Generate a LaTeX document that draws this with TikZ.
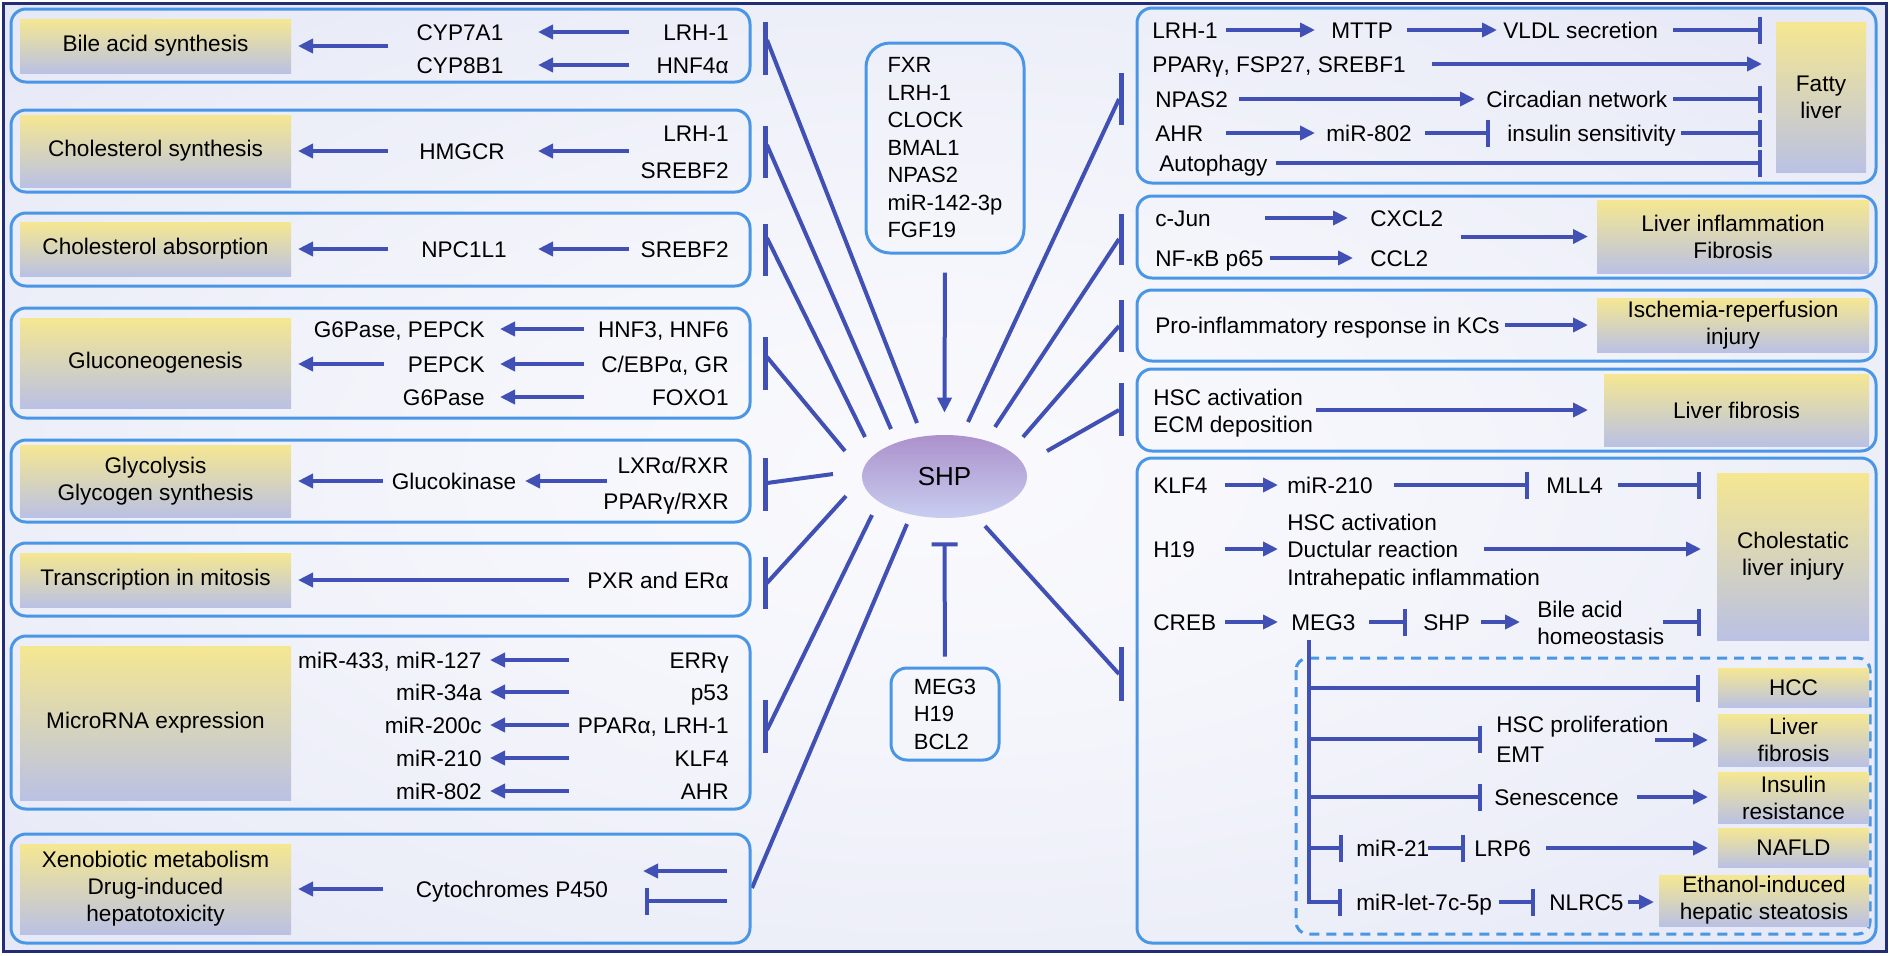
\documentclass[tikz,border=0pt]{standalone}
\usepackage{fontspec}
\setmainfont{Liberation Sans}
\usetikzlibrary{arrows.meta,shapes.geometric}
\definecolor{lineblue}{RGB}{64,80,180}
\definecolor{boxblue}{RGB}{74,150,230}
\definecolor{yel}{RGB}{245,231,145}
\definecolor{lav}{RGB}{186,193,228}
\definecolor{navy}{RGB}{35,45,115}
\definecolor{bgA}{RGB}{250,250,253}
\definecolor{bgB}{RGB}{244,245,251}
\definecolor{bgC}{RGB}{230,233,246}
\definecolor{bgD}{RGB}{218,222,241}
\definecolor{bgE}{RGB}{205,211,236}
\definecolor{shpA}{RGB}{172,145,204}
\definecolor{shpB}{RGB}{156,130,196}
\definecolor{shpC}{RGB}{200,206,240}
\pgfdeclareradialshading{bgshade}{\pgfpoint{0bp}{0bp}}{color(0bp)=(bgA); color(14bp)=(bgB); color(34bp)=(bgC); color(50bp)=(bgD); color(72bp)=(bgE)}
\newcommand{\fs}{\fontsize{11.3}{13.5}\selectfont}
\begin{document}
\begin{tikzpicture}[x=0.5pt,y=-0.5pt,
 lbl/.style={inner sep=0pt, font=\fs, text height=8.1pt, text depth=0pt},
 lbe/.style={lbl, anchor=east},
 lbw/.style={lbl, anchor=west},
 arr/.style={draw=lineblue, line width=2pt, -{Triangle[length=7.5pt,width=7pt]}},
 inh/.style={draw=lineblue, line width=2pt, -{Bar[width=13.5pt]}},
 spoke/.style={draw=lineblue, line width=2pt},
 sbar/.style={draw=lineblue, line width=2.5pt},
 pbox/.style={draw=boxblue, line width=1.5pt, rounded corners=7.5pt},
 ybox/.style={inner sep=0pt, font=\fs, align=center, top color=yel, bottom color=lav},
 cbox/.style={draw=boxblue, line width=1.5pt, inner sep=0pt, align=left, font=\fontsize{11}{13.75}\selectfont}]
\useasboundingbox (0,0) rectangle (1890,955);
\fill[white] (0,0) rectangle (1890,955);
\shade[shading=bgshade] (3,3) rectangle (1886,951);
\draw[navy, line width=1.5pt] (3,3) rectangle (1886,951);

% ---------- centre ----------
\node[ellipse, inner sep=0pt, minimum width=82.5pt, minimum height=41.5pt,
  top color=shpA, middle color=shpB, bottom color=shpC,
  font=\fontsize{13}{15}\selectfont] (shp) at (944.5,476.5) {SHP};
\node[cbox, rounded corners=12pt, minimum width=79pt, minimum height=105pt] (fxr) at (945,148)
  {FXR\\LRH-1\\CLOCK\\BMAL1\\NPAS2\\miR-142-3p\\FGF19};
\node[cbox, rounded corners=8pt, minimum width=54pt, minimum height=46pt] (meg) at (945,714)
  {MEG3\\H19\\BCL2};
\draw[arr, shorten <=9pt] (fxr.south) -- ([yshift=11pt]shp.north);
\draw[draw=lineblue, line width=2pt, shorten <=5pt, -{Bar[width=13pt]}] (meg.north) -- ([yshift=-12pt]shp.south);

% spokes
\foreach \n/\ax/\ay/\bx/\by in {1/917/423/767/40, 2/891/429/767/145, 3/865/437/767/238,
   4/845/451/767/357, 5/833/474/767/483, 6/846/496/767/583, 7/872/515/767/730, 8/907/524/752/888,
   9/968/422/1119/99, 10/995/427/1119/239, 11/1023/437/1119/326, 12/1047/451/1119/410, 13/985/526/1119/674}{
  \coordinate (sa\n) at (\ax,\ay);
  \coordinate (sb\n) at (\bx,\by);
  \draw[spoke] (sa\n) -- (sb\n);
}
\foreach \x/\ya/\yb in {765/22/75, 765/126/178, 765/224/276, 765/337/390, 765/458/511, 765/557/609, 765/700/753,
   1121/73/125, 1121/214/265, 1121/300/352, 1121/383/436, 1121/647/701}{
  \draw[sbar] (\x,\ya) -- (\x,\yb);
}

% ---------- left panel ----------
% Box 1
\draw[pbox] (11,9) rectangle (750,82);
\node[ybox, minimum width=135.5pt, minimum height=27pt] (t1) at (155.5,46) {Bile acid synthesis};
\node[lbl] (cyp7) at (460,32) {CYP7A1};
\node[lbl] (cyp8) at (460,65) {CYP8B1};
\node[lbe] (lrh1a) at (729,32) {LRH-1};
\node[lbe] (hnf4) at (729,65) {HNF4α};
\draw[arr] (lrh1a -| 629,0) -- (cyp7 -| 538,0);
\draw[arr] (hnf4 -| 629,0) -- (cyp8 -| 538,0);
\draw[arr] (t1 -| 388,0) -- (t1 -| 298,0);
% Box 2
\draw[pbox] (11,110) rectangle (750,192);
\node[ybox, minimum width=135.5pt, minimum height=36pt] (t2) at (155.5,151) {Cholesterol synthesis};
\node[lbl] (hmgcr) at (462,151) {HMGCR};
\node[lbe] (lrh1b) at (729,133) {LRH-1};
\node[lbe] (srebfa) at (729,170) {SREBF2};
\draw[arr] (hmgcr -| 629,0) -- (hmgcr -| 538,0);
\draw[arr] (t2 -| 388,0) -- (t2 -| 298,0);
% Box 3
\draw[pbox] (11,213) rectangle (750,286);
\node[ybox, minimum width=135.5pt, minimum height=27pt] (t3) at (155.5,249) {Cholesterol absorption};
\node[lbl] (npc) at (464,249) {NPC1L1};
\node[lbe] (srebfb) at (729,249) {SREBF2};
\draw[arr] (srebfb -| 629,0) -- (npc -| 538,0);
\draw[arr] (t3 -| 388,0) -- (t3 -| 298,0);
% Box 4
\draw[pbox] (11,308) rectangle (750,418);
\node[ybox, minimum width=135.5pt, minimum height=45pt] (t4) at (155.5,363) {Gluconeogenesis};
\node[lbe] (gpa) at (485,329) {G6Pase, PEPCK};
\node[lbe] (gpb) at (485,364) {PEPCK};
\node[lbe] (gpc) at (485,397) {G6Pase};
\node[lbe] (hnf36) at (729,329) {HNF3, HNF6};
\node[lbe] (cebp) at (729,364) {C/EBPα, GR};
\node[lbe] (foxo) at (729,397) {FOXO1};
\draw[arr] (hnf36 -| 584,0) -- (gpa -| 500,0);
\draw[arr] (cebp -| 584,0) -- (gpb -| 500,0);
\draw[arr] (foxo -| 584,0) -- (gpc -| 500,0);
\draw[arr] (gpb -| 384,0) -- (gpb -| 298,0);
% Box 5
\draw[pbox] (11,440) rectangle (750,522);
\node[ybox, minimum width=135.5pt, minimum height=36pt] (t5) at (155.5,481) {Glycolysis\\Glycogen synthesis};
\node[lbl] (gk) at (454,481) {Glucokinase};
\node[lbe] (lxr) at (729,465) {LXRα/RXR};
\node[lbe] (ppg) at (729,501) {PPARγ/RXR};
\draw[arr] (gk -| 607,0) -- (gk -| 525,0);
\draw[arr] (t5 -| 383,0) -- (t5 -| 298,0);
% Box 6
\draw[pbox] (11,543) rectangle (750,616);
\node[ybox, minimum width=135.5pt, minimum height=27pt] (t6) at (155.5,580) {Transcription in mitosis};
\node[lbe] (pxr) at (729,580) {PXR and ERα};
\draw[arr] (pxr -| 569,0) -- (t6 -| 298,0);
% Box 7
\draw[pbox] (11,636) rectangle (750,809);
\node[ybox, minimum width=135.5pt, minimum height=77pt] (t7) at (155.5,723) {MicroRNA expression};
\node[lbe] (ma) at (482,660) {miR-433, miR-127};
\node[lbe] (mb) at (482,692) {miR-34a};
\node[lbe] (mc) at (482,725) {miR-200c};
\node[lbe] (md) at (482,758) {miR-210};
\node[lbe] (me) at (482,791) {miR-802};
\node[lbe] (ra) at (729,660) {ERRγ};
\node[lbe] (rb) at (729,692) {p53};
\node[lbe] (rc) at (729,725) {PPARα, LRH-1};
\node[lbe] (rd) at (729,758) {KLF4};
\node[lbe] (re) at (729,791) {AHR};
\foreach \a/\b in {ra/ma, rb/mb, rc/mc, rd/md, re/me}{
  \draw[arr] (\a -| 569,0) -- (\b -| 490,0);
}
% Box 8
\draw[pbox] (11,834) rectangle (750,943);
\node[ybox, minimum width=135.5pt, minimum height=45pt] (t8) at (155.5,889) {Xenobiotic metabolism\\Drug-induced\\hepatotoxicity};
\node[lbl] (cyto) at (512,889) {Cytochromes P450};
\coordinate (xa) at (727,871);
\coordinate (xb) at (727,901);
\draw[arr] (xa) -- (xa -| 643,0);
\draw[inh] (xb) -- (xb -| 645,0);
\draw[arr] (cyto -| 383,0) -- (t8 -| 298,0);

% ---------- right panel ----------
% Fatty liver
\draw[pbox] (1137,8) rectangle (1876,183);
\node[ybox, minimum width=45pt, minimum height=75pt] (r1) at (1821,97) {Fatty\\liver};
\node[lbw] (lrhr) at (1152,30) {LRH-1};
\node[lbw] (mttp) at (1331,30) {MTTP};
\node[lbw] (vldl) at (1503,30) {VLDL secretion};
\draw[arr] (lrhr -| 1226,0) -- (mttp -| 1315,0);
\draw[arr] (mttp -| 1407,0) -- (vldl -| 1497,0);
\draw[inh] (vldl -| 1673,0) -- (vldl -| 1762,0);
\node[lbw] (pparr) at (1152,64) {PPARγ, FSP27, SREBF1};
\draw[arr] (pparr -| 1432,0) -- (pparr -| 1762,0);
\node[lbw] (npas) at (1155,99) {NPAS2};
\node[lbw] (circ) at (1486,99) {Circadian network};
\draw[arr] (npas -| 1239,0) -- (circ -| 1475,0);
\draw[inh] (circ -| 1673,0) -- (circ -| 1762,0);
\node[lbw] (ahrr) at (1155,133) {AHR};
\node[lbw] (m802) at (1326,133) {miR-802};
\node[lbw] (insu) at (1507,133) {insulin sensitivity};
\draw[arr] (ahrr -| 1226,0) -- (m802 -| 1315,0);
\draw[inh] (m802 -| 1425,0) -- (insu -| 1490,0);
\draw[inh] (insu -| 1681,0) -- (insu -| 1762,0);
\node[lbw] (auto) at (1159,163) {Autophagy};
\draw[inh] (auto -| 1276,0) -- (auto -| 1762,0);
% Liver inflammation
\draw[pbox] (1137,196) rectangle (1876,278);
\node[ybox, minimum width=136pt, minimum height=36.5pt] (r2) at (1733,236.5) {Liver inflammation\\Fibrosis};
\node[lbw] (cjun) at (1155,218) {c-Jun};
\node[lbw] (cxcl) at (1370,218) {CXCL2};
\node[lbw] (nfkb) at (1155,258) {NF-κB p65};
\node[lbw] (ccl) at (1370,258) {CCL2};
\draw[arr] (cjun -| 1265,0) -- (cxcl -| 1348,0);
\draw[arr] (nfkb -| 1270,0) -- (ccl -| 1353,0);
\draw[arr] (r2 -| 1461,0) -- (r2 -| 1588,0);
% Ischemia
\draw[pbox] (1137,290) rectangle (1876,361);
\node[ybox, minimum width=136pt, minimum height=27pt] (r3) at (1733,325) {Ischemia-reperfusion\\injury};
\node[lbw] (pro) at (1155,325) {Pro-inflammatory response in KCs};
\draw[arr] (pro -| 1505,0) -- (pro -| 1588,0);
% Liver fibrosis
\draw[pbox] (1137,369) rectangle (1876,451);
\node[ybox, minimum width=132.5pt, minimum height=36pt] (r4) at (1736.5,410) {Liver fibrosis};
\node[lbw] (hsca) at (1153,397) {HSC activation};
\node[lbw] (ecm) at (1153,424) {ECM deposition};
\draw[arr] (r4 -| 1316,0) -- (r4 -| 1588,0);
% Cholestatic
\draw[pbox] (1137,458) rectangle (1876,943);
\node[ybox, minimum width=76pt, minimum height=83.5pt] (r5) at (1793,556.5) {Cholestatic\\liver injury};
\node[lbw] (klf) at (1153,485) {KLF4};
\node[lbw] (m210) at (1287,485) {miR-210};
\node[lbw] (mll) at (1546,485) {MLL4};
\draw[arr] (klf -| 1225,0) -- (m210 -| 1278,0);
\draw[inh] (m210 -| 1394,0) -- (mll -| 1529,0);
\draw[inh] (mll -| 1618,0) -- (mll -| 1701,0);
\node[lbw] (h19) at (1153,549) {H19};
\node[lbw] (hscb) at (1287,522) {HSC activation};
\node[lbw] (duct) at (1287,549) {Ductular reaction};
\node[lbw] (intra) at (1287,577) {Intrahepatic inflammation};
\draw[arr] (h19 -| 1225,0) -- (duct -| 1278,0);
\draw[arr] (duct -| 1484,0) -- (duct -| 1701,0);
\node[lbw] (creb) at (1153,622) {CREB};
\node[lbw] (megr) at (1291,622) {MEG3};
\node[lbw] (shpr) at (1423,622) {SHP};
\node[lbw] (bile) at (1537,609) {Bile acid};
\node[lbw] (homeo) at (1537,636) {homeostasis};
\draw[arr] (creb -| 1225,0) -- (megr -| 1278,0);
\draw[inh] (megr -| 1369,0) -- (shpr -| 1407,0);
\draw[arr] (shpr -| 1481,0) -- (shpr -| 1520,0);
\draw[inh] (shpr -| 1663,0) -- (shpr -| 1701,0);
% dashed sub-panel
\draw[boxblue, line width=1.5pt, dash pattern=on 5pt off 3.5pt, rounded corners=6pt] (1296,658) rectangle (1870,934);
\node[ybox, minimum width=75.5pt, minimum height=19.5pt] (r6) at (1793.5,687.5) {HCC};
\node[ybox, minimum width=75.5pt, minimum height=26pt] (r7) at (1793.5,740) {Liver\\fibrosis};
\node[ybox, minimum width=75.5pt, minimum height=25.5pt] (r8) at (1793.5,797.5) {Insulin\\resistance};
\node[ybox, minimum width=75.5pt, minimum height=19.5pt] (r9) at (1793.5,847.5) {NAFLD};
\node[ybox, minimum width=105pt, minimum height=25.5pt] (r10) at (1764,900.5) {Ethanol-induced\\hepatic steatosis};
\coordinate (br0) at (1309,640);
\coordinate (br1) at (1309,688);
\coordinate (br2) at (1309,739);
\coordinate (br3) at (1309,797);
\coordinate (br4) at (1309,848);
\coordinate (br5) at (1309,902);
\draw[inh] (br0) -- (br5) -- (br5 -| 1342,0);
\draw[inh] (br1) -- (br1 -| 1700,0);
\draw[inh] (br2) -- (br2 -| 1482,0);
\draw[inh] (br3) -- (br3 -| 1482,0);
\draw[inh] (br4) -- (br4 -| 1343,0);
\node[lbw] (hscp) at (1496,724) {HSC proliferation};
\node[lbw] (emt) at (1496,754) {EMT};
\draw[arr] (r7 -| 1655,0) -- (r7 -| 1708,0);
\node[lbw] (sen) at (1494,797) {Senescence};
\draw[arr] (sen -| 1637,0) -- (sen -| 1708,0);
\node[lbw] (m21) at (1356,848) {miR-21};
\node[lbw] (lrp) at (1474,848) {LRP6};
\draw[inh] (m21 -| 1428,0) -- (lrp -| 1465,0);
\draw[arr] (lrp -| 1546,0) -- (lrp -| 1708,0);
\node[lbw] (let7) at (1356,902) {miR-let-7c-5p};
\node[lbw] (nlrc) at (1549,902) {NLRC5};
\draw[inh] (let7 -| 1499,0) -- (nlrc -| 1535,0);
\draw[arr] (nlrc -| 1628,0) -- (nlrc -| 1654,0);
\end{tikzpicture}
\end{document}
